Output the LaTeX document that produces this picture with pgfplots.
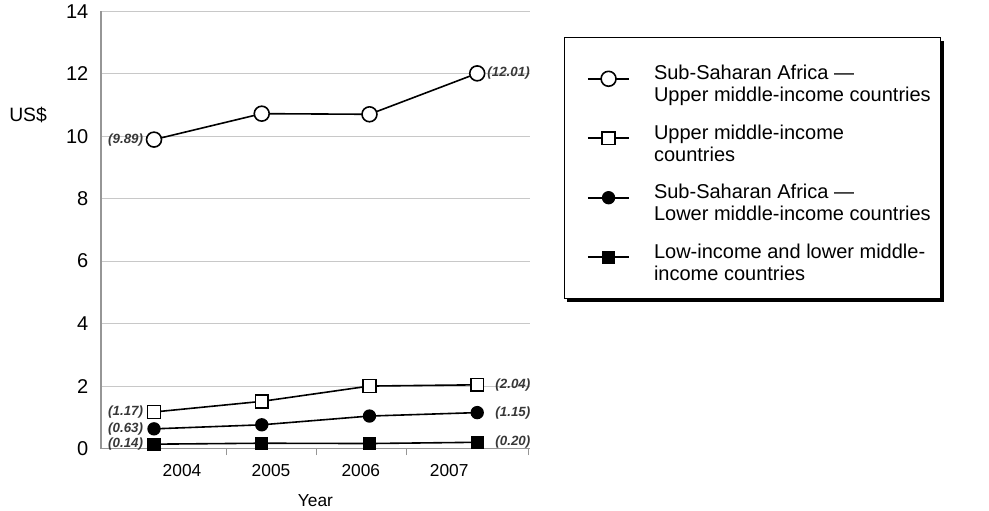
\documentclass[border=0pt]{standalone}
\usepackage{pgfplots}
\pgfplotsset{compat=1.18}
\usepackage{fontspec}
\setmainfont{Liberation Sans}
\usetikzlibrary{backgrounds}
\definecolor{gridgray}{RGB}{200,200,200}
\definecolor{axgray}{RGB}{150,150,150}
\definecolor{lblgray}{RGB}{55,55,55}
\begin{document}
\begin{tikzpicture}
\begin{axis}[
  scale only axis, width=321.75pt, height=328pt,
  xmin=-0.492, xmax=3.49, ymin=0, ymax=14,
  clip=false,
  axis lines*=left,
  axis line style={-, draw=axgray, line width=0.8pt},
  /pgf/number format/assume math mode=true,
  ytick={0,2,...,14},
  ymajorgrids, grid style={gridgray, line width=0.8pt},
  major tick length=0pt, tick align=outside,
  yticklabel style={font=\fontsize{15}{18}\selectfont, xshift=-6pt},
  xtick={0.26,1.086,1.92,2.74}, xticklabels={2004,2005,2006,2007},
  xticklabel style={font=\fontsize{13}{15}\selectfont, yshift=-8pt},
  extra x ticks={0.675,1.51,2.345,3.48}, extra x tick labels={},
  extra x tick style={major tick length=5pt, tick style={draw=axgray, line width=0.8pt}},
  xlabel={Year}, xlabel style={font=\fontsize{13}{15}\selectfont, yshift=-2pt},
  ylabel={US\$}, ylabel style={rotate=-90, at={(axis description cs:-0.17,0.762)}, anchor=center, font=\fontsize{14.5}{17}\selectfont},
  legend image code/.code={\path (0pt,0pt); \draw[mark repeat=2,mark phase=2] plot coordinates {(12pt,0pt) (27.5pt,0pt) (43pt,0pt)};},
  legend cell align=left,
  legend style={at={(axis description cs:1.079,0.9406)}, anchor=north west,
    name=leg,
    draw=black, line width=0.8pt, fill=white,
    font=\fontsize{15}{16.5}\selectfont,
    row sep=19pt, column sep=16pt, inner xsep=5pt, inner ysep=18pt},
  every axis plot/.append style={line width=1.2pt, black, mark options={line width=0.9pt, solid}},
]
\addplot[mark=*, mark size=5.6pt, mark options={fill=white}] coordinates {(0,9.89) (1,10.72) (2,10.70) (3,12.01)};
\addlegendentry{\begin{tabular}{@{}l@{}}Sub-Saharan Africa —\\Upper middle-income countries\end{tabular}}
\addplot[mark=square*, mark size=4.8pt, mark options={fill=white}] coordinates {(0,1.17) (1,1.51) (2,2.00) (3,2.04)};
\addlegendentry{\begin{tabular}{@{}l@{}}Upper middle-income\\countries\end{tabular}}
\addplot[mark=*, mark size=4.4pt, mark options={fill=black}] coordinates {(0,0.63) (1,0.76) (2,1.04) (3,1.15)};
\addlegendentry{\begin{tabular}{@{}l@{}}Sub-Saharan Africa —\\Lower middle-income countries\end{tabular}}
\addplot[mark=square*, mark size=4.3pt, mark options={fill=black}] coordinates {(0,0.14) (1,0.17) (2,0.16) (3,0.20)};
\addlegendentry{\begin{tabular}{@{}l@{}}Low-income and lower middle-\\income countries\end{tabular}}
\begin{scope}[every node/.style={font=\fontsize{10}{12}\selectfont\bfseries\itshape, text=lblgray, inner sep=0pt}]
\node[anchor=east, xshift=-8pt] at (axis cs:0,9.89) {(9.89)};
\node[anchor=east, xshift=-8pt] at (axis cs:0,1.17) {(1.17)};
\node[anchor=east, xshift=-8pt] at (axis cs:0,0.63) {(0.63)};
\node[anchor=east, xshift=-8pt] at (axis cs:0,0.14) {(0.14)};
\node[anchor=west, xshift=7.5pt] at (axis cs:3,12.01) {(12.01)};
\node[anchor=west, xshift=13.5pt] at (axis cs:3,2.04) {(2.04)};
\node[anchor=west, xshift=13.5pt] at (axis cs:3,1.15) {(1.15)};
\node[anchor=west, xshift=13.5pt] at (axis cs:3,0.20) {(0.20)};
\end{scope}
\end{axis}
\begin{pgfonlayer}{background}
\fill[black] ([shift={(2.5pt,-2.5pt)}]leg.south west) rectangle ([shift={(2.5pt,-2.5pt)}]leg.north east);
\end{pgfonlayer}
\pgfresetboundingbox
\path ([shift={(-75.75pt,-46.125pt)}]current axis.south west) rectangle ([shift={(666pt,336.4pt)}]current axis.south west);
\end{tikzpicture}
\end{document}
